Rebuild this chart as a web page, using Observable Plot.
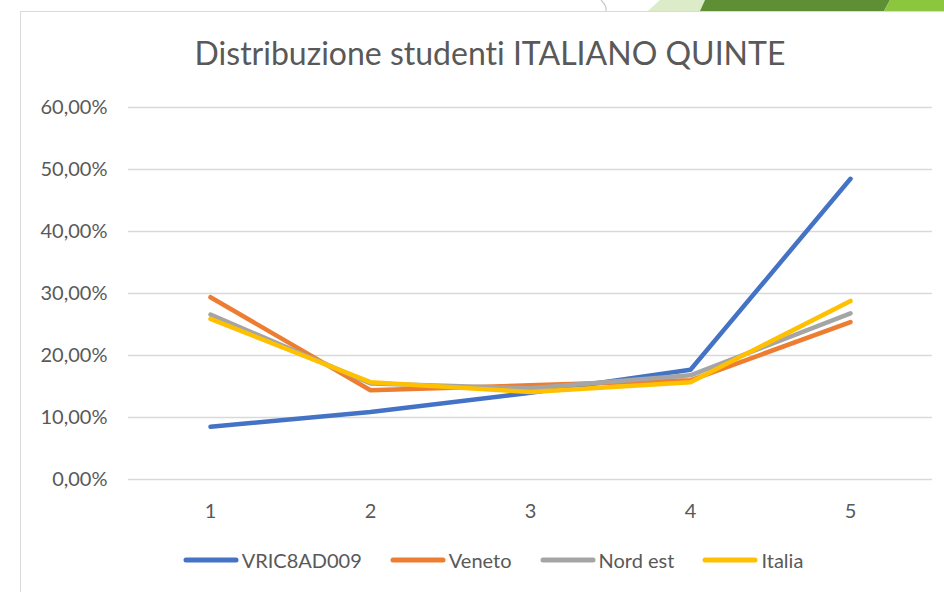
<!DOCTYPE html>
<html><head><meta charset="utf-8">
<script src="https://cdn.jsdelivr.net/npm/d3@7"></script>
<script src="https://cdn.jsdelivr.net/npm/@observablehq/plot@0.6"></script>
<style>
html,body{margin:0;padding:0;}
body{width:944px;height:592px;overflow:hidden;background:#fff;font-family:Lato,"Open Sans",sans-serif;position:relative;font-variant-ligatures:none;}
#frame{position:absolute;left:20px;top:11px;width:1000px;height:700px;border-left:1.5px solid #d9d9d9;border-top:1.5px solid #d9d9d9;box-sizing:border-box;}
#deco{position:absolute;left:0;top:0;}
#title{position:absolute;left:0;width:980px;top:33px;text-align:center;font-size:32px;color:#595959;white-space:nowrap;font-variant-ligatures:none;}
#chart{position:absolute;left:0;top:90px;}
#legend{position:absolute;left:0;width:986px;top:548px;display:flex;justify-content:center;align-items:center;font-size:20px;color:#595959;}
.item{display:flex;align-items:center;margin:0 14px;}
.item svg{margin-right:3px;}
</style>
</head>
<body>
<svg id="deco" width="944" height="14">
  <path d="M601,0 Q607,6 606,11" fill="none" stroke="#c8c8c8" stroke-width="1.2"/>
  <path d="M648,11 L660,0 L705,0 L700,11 Z" fill="#dcebc8"/>
  <path d="M700,11 L705,0 L890,0 L884,11 Z" fill="#5f8f35"/>
  <path d="M884,11 L890,0 L944,0 L944,11 Z" fill="#8cc63e"/>
</svg>
<div id="frame"></div>
<div id="title">Distribuzione studenti ITALIANO QUINTE</div>
<div id="chart"></div>
<div id="legend"></div>
<script>
const categories = [1, 2, 3, 4, 5];
const seriesNames = ["VRIC8AD009", "Veneto", "Nord est", "Italia"];
const vric8ad009 = [8.5, 10.9, 14.0, 17.7, 48.5];
const veneto = [29.4, 14.4, 15.2, 16.0, 25.4];
const nordEst = [26.6, 15.5, 14.7, 16.8, 26.8];
const italia = [25.9, 15.7, 14.1, 15.7, 28.8];
const seriesColors = ["#4472C4", "#ED7D31", "#A5A5A5", "#FFC000"];
const yTicks = [0, 10, 20, 30, 40, 50, 60];

const seriesValues = [vric8ad009, veneto, nordEst, italia];
const data = [];
seriesNames.forEach((name, i) => {
  categories.forEach((c, j) => data.push({series: name, cat: c, value: seriesValues[i][j]}));
});

const fmt = v => v.toFixed(2).replace(".", ",") + "%";

const chart = Plot.plot({
  width: 944,
  height: 439,
  marginLeft: 128,
  marginRight: 12,
  marginTop: 17,
  marginBottom: 50,
  style: {fontFamily: "Lato, 'Open Sans', sans-serif", fontSize: "20px", color: "#595959", background: "transparent"},
  x: {type: "point", domain: categories, padding: 0.5},
  y: {domain: [0, 60]},
  color: {domain: seriesNames, range: seriesColors},
  marks: [
    Plot.gridY(yTicks, {stroke: "#d9d9d9", strokeOpacity: 1, strokeWidth: 1.5}),
    Plot.lineY(data, {x: "cat", y: "value", z: "series", stroke: "series", strokeWidth: 4.5, strokeLinecap: "round", strokeLinejoin: "round"}),
    Plot.axisX({tickSize: 0, tickPadding: 24, label: null}),
    Plot.axisY(yTicks, {tickSize: 0, tickPadding: 21, tickFormat: fmt, label: null})
  ]
});
document.getElementById("chart").appendChild(chart);

const legend = document.getElementById("legend");
seriesNames.forEach((name, i) => {
  const item = document.createElement("div");
  item.className = "item";
  item.innerHTML = `<svg width="56" height="10"><line x1="3" y1="5" x2="53" y2="5" stroke="${seriesColors[i]}" stroke-width="5" stroke-linecap="round"/></svg><span>${name}</span>`;
  legend.appendChild(item);
});
</script>
</body></html>
